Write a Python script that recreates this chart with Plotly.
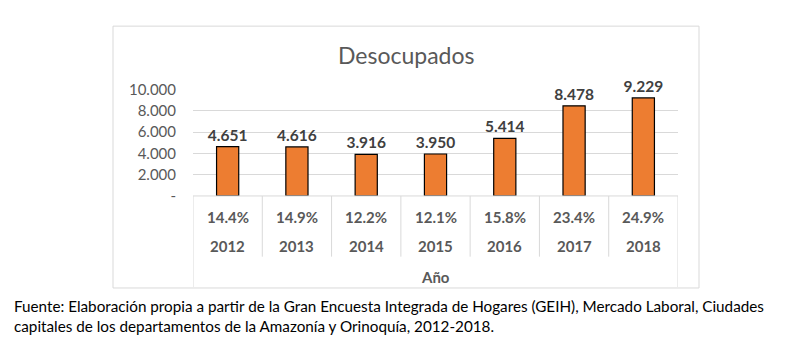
import plotly.graph_objects as go

years = ["2012", "2013", "2014", "2015", "2016", "2017", "2018"]
desocupados = [4651, 4616, 3916, 3950, 5414, 8478, 9229]
tasas = ["14.4%", "14.9%", "12.2%", "12.1%", "15.8%", "23.4%", "24.9%"]
tick_vals = [0, 2000, 4000, 6000, 8000, 10000]
tick_text = ["-"] + [f"{v:,}".replace(",", ".") for v in tick_vals[1:]]
title_text = "Desocupados"
axis_title = "Año"
source_text = ("Fuente: Elaboración propia a partir de la Gran Encuesta Integrada de Hogares (GEIH), Mercado Laboral, Ciudades<br>"
               "capitales de los departamentos de la Amazonía y Orinoquía, 2012-2018.")

W, H = 801, 351
FONT = "Lato, 'Open Sans', sans-serif"
def px_y(y):
    return 1 - y / H
def px_x(x):
    return x / W

xs = list(range(len(years)))

fig = go.Figure()
fig.add_trace(go.Bar(
    x=xs, y=desocupados, width=0.32,
    marker=dict(color="#ED7D31", line=dict(color="#000000", width=1.2)),
    texttemplate="%{y:,.0f}", textposition="outside", cliponaxis=False,
    constraintext="none",
    textfont=dict(family=FONT, size=15.5, color="#404040", weight="bold"),
    hoverinfo="skip",
))

GRID = "#d9d9d9"
y0 = 196
plot_left, plot_right = 193, 678
top10k = 84

fig.update_layout(
    width=W, height=H, margin=dict(l=0, r=0, t=0, b=0),
    paper_bgcolor="white", plot_bgcolor="white",
    separators=",.",
    showlegend=False,
    xaxis=dict(domain=[px_x(plot_left), px_x(plot_right)], range=[-0.5, len(years) - 0.5],
               showticklabels=False, showgrid=False, zeroline=False, fixedrange=True),
    yaxis=dict(domain=[px_y(y0), px_y(top10k)], range=[0, 10000],
               tickvals=tick_vals, ticktext=tick_text,
               tickfont=dict(family=FONT, size=15, color="#595959"),
               ticklabelstandoff=16,
               showgrid=True, gridcolor=GRID, gridwidth=1, zeroline=False,
               ticks="", ticklen=0),
)

shapes = []
shapes.append(dict(type="rect", xref="paper", yref="paper",
                   x0=px_x(113), x1=px_x(699), y0=px_y(293), y1=px_y(17),
                   line=dict(color=GRID, width=1)))
shapes.append(dict(type="line", xref="paper", yref="paper",
                   x0=px_x(plot_left), x1=px_x(plot_right), y0=px_y(y0), y1=px_y(y0),
                   line=dict(color=GRID, width=1)))
n = len(years)
for k in range(n + 1):
    bottom = 292 if k in (0, n) else 260
    shapes.append(dict(type="line", xref="x", yref="paper",
                       x0=k - 0.5, x1=k - 0.5, y0=px_y(y0), y1=px_y(bottom),
                       line=dict(color=GRID, width=1)))
fig.update_layout(shapes=shapes)

ann = []
for i, (yr, t) in enumerate(zip(years, tasas)):
    ann.append(dict(x=i, y=px_y(218), xref="x", yref="paper", text=t, showarrow=False, yanchor="middle",
                    font=dict(family=FONT, size=15, color="#595959", weight="bold")))
    ann.append(dict(x=i, y=px_y(249), xref="x", yref="paper", text=yr, showarrow=False, yanchor="middle",
                    font=dict(family=FONT, size=15, color="#595959", weight="bold")))
ann.append(dict(x=(n - 1) / 2, y=px_y(281), xref="x", yref="paper", text=axis_title, showarrow=False,
                yanchor="middle",
                font=dict(family=FONT, size=15, color="#595959", weight="bold")))
ann.append(dict(x=px_x(406), y=px_y(47), xref="paper", yref="paper", text=title_text, showarrow=False,
                yanchor="middle",
                font=dict(family=FONT, size=23, color="#595959")))
ann.append(dict(x=px_x(12), y=px_y(323), xref="paper", yref="paper", text=source_text, showarrow=False,
                xanchor="left", yanchor="middle", align="left",
                font=dict(family=FONT, size=15.25, color="#000000")))
fig.update_layout(annotations=ann)

fig.write_html("out.html")
